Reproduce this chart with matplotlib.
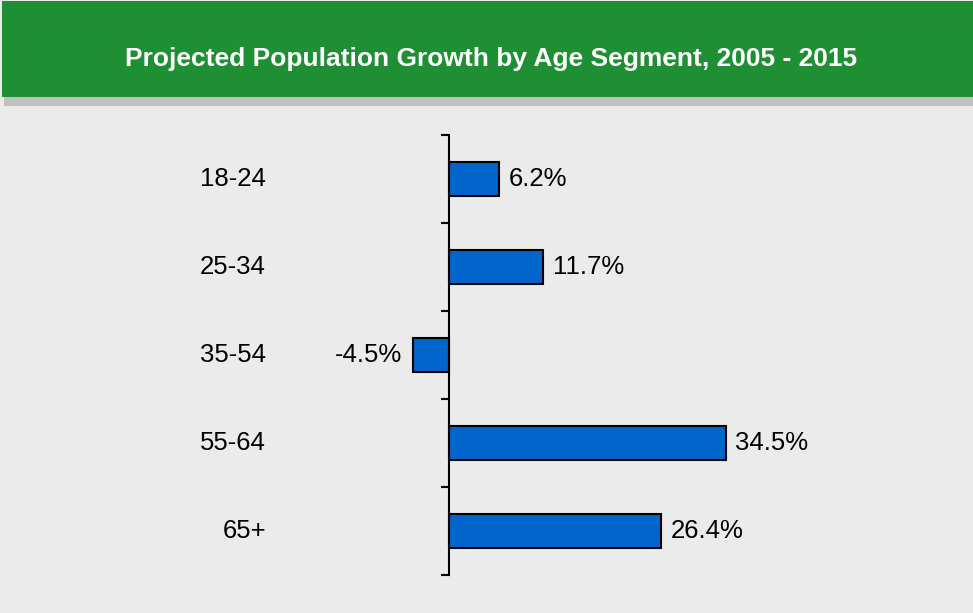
import matplotlib
matplotlib.use('Agg')
import matplotlib.pyplot as plt
from matplotlib.patches import Rectangle
from matplotlib.transforms import blended_transform_factory

plt.rcParams['font.family'] = ['Liberation Sans', 'DejaVu Sans']

segments = ['18-24', '25-34', '35-54', '55-64', '65+']
growth = [6.2, 11.7, -4.5, 34.5, 26.4]
value_labels = ['6.2%', '11.7%', '-4.5%', '34.5%', '26.4%']

W, H = 973, 613
fig = plt.figure(figsize=(W / 100, H / 100), dpi=100)
fig.patch.set_facecolor('#ebebeb')

# header band with drop shadow
fig.patches.append(Rectangle((4 / W, 1 - 106 / H), 1, 100 / H,
                             transform=fig.transFigure, facecolor='#c0c0c0',
                             edgecolor='none', zorder=0))
fig.patches.append(Rectangle((2 / W, 1 - 97 / H), 1, 96 / H,
                             transform=fig.transFigure, facecolor='#1e8f32',
                             edgecolor='none', zorder=1))
fig.text(491 / W, 1 - 59 / H, 'Projected Population Growth by Age Segment, 2005 - 2015',
         ha='center', va='center', color='white', fontsize=19, fontweight='bold')

# axes: 0 sits at x=449px, about 8.02 px per percentage point
xmin, xmax = -25, 55
ppu = 8.02
left_px = 449 + xmin * ppu
ax = fig.add_axes([left_px / W, 1 - 575 / H, (xmax - xmin) * ppu / W, 440 / H])
ax.set_facecolor('none')

pos = list(range(len(segments)))
ax.barh(pos, growth, height=0.39, color='#0066cc', edgecolor='black', linewidth=1.5)
ax.set_xlim(xmin, xmax)
ax.set_ylim(len(segments) - 0.5, -0.5)

for sp in ['top', 'right', 'bottom']:
    ax.spines[sp].set_visible(False)
ax.spines['left'].set_position(('data', 0))
ax.spines['left'].set_linewidth(1.5)
ax.set_xticks([])
ax.set_yticks([p - 0.5 for p in pos] + [len(segments) - 0.5])
ax.set_yticklabels([])
ax.tick_params(axis='y', direction='out', length=6, width=1.5)

for p, v, lab in zip(pos, growth, value_labels):
    if v >= 0:
        ax.annotate(lab, (v, p), xytext=(7, 0), textcoords='offset points',
                    ha='left', va='center', fontsize=18.5)
    else:
        ax.annotate(lab, (v, p), xytext=(-8, 0), textcoords='offset points',
                    ha='right', va='center', fontsize=18.5)

trans = blended_transform_factory(fig.transFigure, ax.transData)
for p, name in zip(pos, segments):
    ax.text(266 / W, p, name, transform=trans, ha='right', va='center', fontsize=18.5)

plt.savefig('out.png', dpi=100, facecolor=fig.get_facecolor())
